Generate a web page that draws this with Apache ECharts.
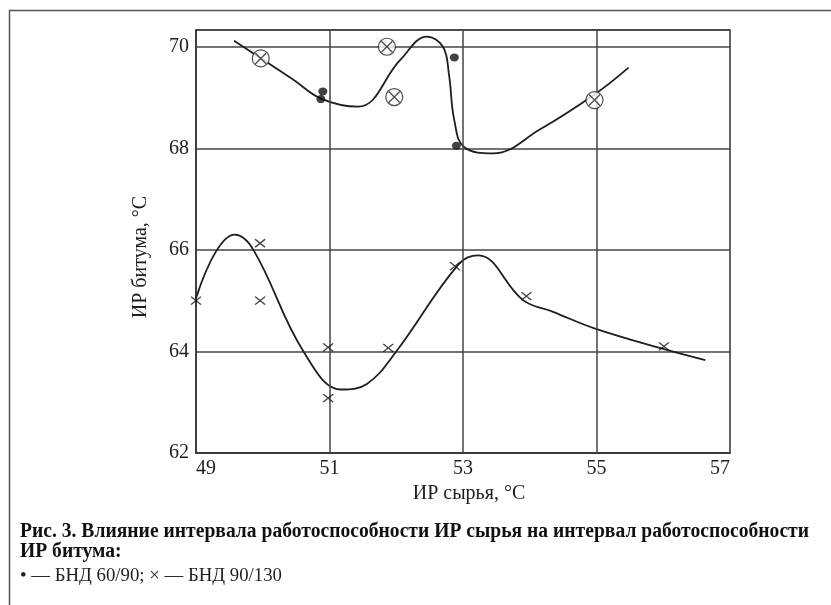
<!DOCTYPE html>
<html><head><meta charset="utf-8">
<script src="https://cdn.jsdelivr.net/npm/echarts@6/dist/echarts.min.js"></script>
<style>html,body{margin:0;padding:0;background:#fff}#c{width:831px;height:605px}</style>
</head><body><div id="c"></div>
<script>
// ---- data ----
const xLabelValues = [49, 51, 53, 55, 57];
const xGridValues = [51, 53, 55];
const yTicks = [62, 64, 66, 68, 70];

// БНД 60/90 – filled dots
const dotsBND6090 = [[50.9, 69.12], [50.87, 68.97], [52.87, 69.79], [52.9, 68.05]];
// circled-cross points (upper group)
const circlesUpper = [[49.97, 69.77], [51.86, 70.0], [51.97, 69.01], [54.97, 68.95]];
// БНД 90/130 – crosses
const crossesBND90130 = [[49.0, 65.0], [49.96, 66.13], [49.96, 65.0], [50.98, 64.08], [50.98, 63.08],
  [51.88, 64.07], [52.88, 65.68], [53.95, 65.09], [56.01, 64.1]];

// fitted curves as traced in the picture
const curveUpper = [[49.57, 70.12], [50.46, 69.35], [50.87, 68.98], [51.43, 68.82],
  [52.06, 69.74], [52.46, 70.2], [52.7, 70.0], [52.79, 69.45], [52.87, 68.55], [53.02, 68.02],
  [53.45, 67.9], [54.15, 68.37], [54.97, 69.06], [55.48, 69.59]];
const curveLower = [[49.0, 65.05], [49.3, 65.97], [49.58, 66.3], [49.86, 66.0],
  [50.61, 64.0], [51.18, 63.25], [51.56, 63.36], [52.0, 64.0],
  [52.93, 65.71], [53.23, 65.89], [53.9, 65.01], [54.35, 64.78],
  [54.98, 64.45], [56.0, 64.05], [56.63, 63.83]];

const xName = 'ИР сырья, °C';
const yName = 'ИР битума, °C';
const caption1 = 'Рис. 3. Влияние интервала работоспособности ИР сырья на интервал работоспособности';
const caption2 = 'ИР битума:';
const caption3 = '• — БНД 60/90; × — БНД 90/130';

// ---- rendering ----
const SERIF = '"Liberation Serif", "DejaVu Serif", serif';
const INK = '#1e1e1e';
function measure(text, font) {
  const c = document.createElement('canvas').getContext('2d');
  c.font = font; return c.measureText(text).width;
}
const f1 = 'bold 20px ' + SERIF;
const f3 = '19px ' + SERIF;
const s1 = 789 / measure(caption1, f1);
const s3 = 262 / measure(caption3, f3);

const chart = echarts.init(document.getElementById('c'), null, {renderer: 'canvas'});
chart.setOption({
  animation: false,
  backgroundColor: '#fff',
  grid: {left: 196, top: 30, right: 101, bottom: 152, show: true, borderColor: '#333', borderWidth: 1.5},
  xAxis: {
    type: 'value', min: 49, max: 57, interval: 1,
    axisLine: {onZero: false, lineStyle: {color: '#333', width: 1.5}},
    axisTick: {show: false},
    splitLine: {show: false},
    axisLabel: {
      fontFamily: SERIF, fontSize: 20, color: INK, margin: 6,
      alignMinLabel: 'left', alignMaxLabel: 'right',
      formatter: v => xLabelValues.includes(v) ? String(v) : ''
    }
  },
  yAxis: {
    type: 'value', min: yTicks[0], max: 70.33, interval: 2,
    axisLine: {onZero: false, lineStyle: {color: '#333', width: 1.5}},
    axisTick: {show: false},
    splitLine: {lineStyle: {color: '#444', width: 1.5}},
    axisLabel: {
      fontFamily: SERIF, fontSize: 20, color: INK, margin: 7, showMaxLabel: false,
      formatter: v => yTicks.includes(v) ? String(v) : ''
    }
  },
  series: [
    {
      type: 'line', data: curveUpper, smooth: 0.4, showSymbol: false,
      lineStyle: {color: INK, width: 1.8}, z: 3, silent: true,
      markLine: {
        silent: true, symbol: ['none', 'none'], label: {show: false},
        lineStyle: {color: '#444', width: 1.5, type: 'solid'},
        data: xGridValues.map(v => ({xAxis: v}))
      }
    },
    {
      type: 'line', data: curveLower, smooth: 0.4, showSymbol: false,
      lineStyle: {color: INK, width: 1.8}, z: 3, silent: true
    },
    {
      type: 'scatter', data: dotsBND6090, symbol: 'circle', symbolSize: [9, 8],
      itemStyle: {color: '#111'}, z: 5
    },
    {
      type: 'scatter', data: circlesUpper, symbol: 'circle', symbolSize: 17,
      itemStyle: {color: '#fff', borderColor: '#222', borderWidth: 1.2}, z: 5
    },
    {
      type: 'scatter', data: circlesUpper, symbol: 'path://M0,0L10,10M10,0L0,10', symbolSize: 11,
      itemStyle: {color: 'none', borderColor: '#222', borderWidth: 1.3}, z: 6
    },
    {
      type: 'scatter', data: crossesBND90130, symbol: 'path://M0,0L10,10M10,0L0,10', symbolSize: [10, 8],
      itemStyle: {color: 'none', borderColor: '#111', borderWidth: 1.4}, z: 5
    }
  ],
  graphic: [
    {type: 'rect', silent: true, shape: {x: 9.5, y: 10.5, width: 900, height: 700},
      style: {fill: 'none', stroke: '#555', lineWidth: 1.5}},
    {type: 'text', x: 469, y: 494, silent: true,
      style: {text: xName, font: '20px ' + SERIF, fill: INK, align: 'center', verticalAlign: 'middle'}},
    {type: 'text', x: 141, y: 257, rotation: Math.PI / 2, silent: true,
      style: {text: yName, font: '20px ' + SERIF, fill: INK, align: 'center', verticalAlign: 'middle'}},
    {type: 'text', x: 20, y: 532, scaleX: s1, silent: true,
      style: {text: caption1, font: f1, fill: '#111', align: 'left', verticalAlign: 'middle'}},
    {type: 'text', x: 20, y: 552, scaleX: s1, silent: true,
      style: {text: caption2, font: f1, fill: '#111', align: 'left', verticalAlign: 'middle'}},
    {type: 'text', x: 20, y: 576, scaleX: s3, silent: true,
      style: {text: caption3, font: f3, fill: INK, align: 'left', verticalAlign: 'middle'}}
  ]
});
</script>
</body></html>
